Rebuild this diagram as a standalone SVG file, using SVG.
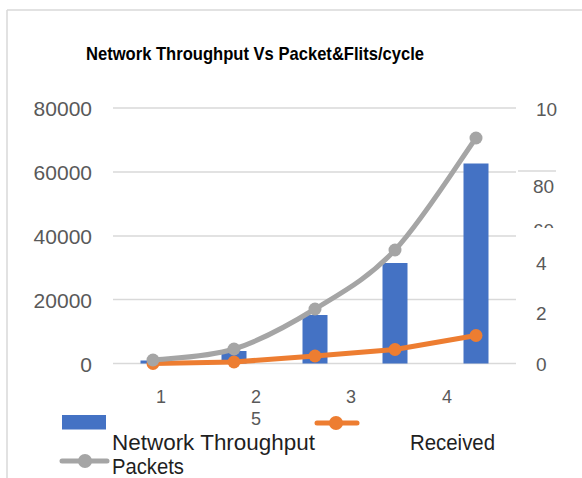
<svg xmlns="http://www.w3.org/2000/svg" width="582" height="478" viewBox="0 0 582 478">
  <style>
    .grid { stroke: #d9d9d9; stroke-width: 1.5; fill: none; }
    .frame { stroke: #d9d9d9; stroke-width: 1.5; fill: none; }
    .axis { font-family: "Liberation Sans", Arial, sans-serif; font-size: 21px; fill: #595959; }
    .axisR { font-family: "Liberation Sans", Arial, sans-serif; font-size: 19px; fill: #595959; }
    .cat { font-family: "Liberation Sans", Arial, sans-serif; font-size: 18px; fill: #595959; text-anchor: middle; }
    .legend { font-family: "Liberation Sans", Arial, sans-serif; font-size: 22px; fill: #1f1f1f; }
    .title { font-family: "Liberation Sans", Arial, sans-serif; font-size: 19px; font-weight: bold; fill: #000; }
    .bar { fill: #4472c4; }
    .gray { stroke: #a5a5a5; stroke-width: 5; fill: none; stroke-linejoin: round; stroke-linecap: round; }
    .grayDot { fill: #a5a5a5; }
    .orange { stroke: #ed7d31; stroke-width: 5; fill: none; stroke-linejoin: round; stroke-linecap: round; }
    .orangeDot { fill: #ed7d31; }
  </style>
  <defs>
    <clipPath id="clipSixty">
      <rect x="520" y="200" width="60" height="28"/>
    </clipPath>
  </defs>

  <rect x="0" y="0" width="582" height="478" fill="#ffffff"/>

  <!-- chart frame (top and left edges) -->
  <g id="frame">
    <line class="frame" x1="7" y1="10" x2="582" y2="10"/>
    <line class="frame" x1="7" y1="10" x2="7" y2="478"/>
  </g>

  <text id="title" class="title" x="86" y="60" textLength="338" lengthAdjust="spacingAndGlyphs">Network Throughput Vs Packet&amp;Flits/cycle</text>

  <!-- gridlines -->
  <g id="gridlines">
    <line class="grid" x1="113" y1="108" x2="516" y2="108"/>
    <line class="grid" x1="113" y1="172" x2="516" y2="172"/>
    <line class="grid" x1="113" y1="236" x2="516" y2="236"/>
    <line class="grid" x1="113" y1="299.5" x2="516" y2="299.5"/>
    <line class="grid" x1="113" y1="363.5" x2="516" y2="363.5"/>
    <line class="grid" x1="518" y1="171" x2="556" y2="171"/>
  </g>

  <!-- left value axis -->
  <g id="axis-left" class="axis" text-anchor="end">
    <text x="92" y="116">80000</text>
    <text x="92" y="180">60000</text>
    <text x="92" y="244">40000</text>
    <text x="92" y="307.5">20000</text>
    <text x="92" y="371.5">0</text>
  </g>

  <!-- right value axis -->
  <g id="axis-right" class="axisR">
    <text x="536" y="116">10</text>
    <text x="533" y="193">80</text>
    <text x="533" y="237" clip-path="url(#clipSixty)">60</text>
    <text x="536" y="269.5">4</text>
    <text x="536" y="320">2</text>
    <text x="536" y="371">0</text>
  </g>

  <!-- category axis -->
  <g id="axis-categories" class="cat">
    <text x="161" y="403">1</text>
    <text x="256" y="403">2</text>
    <text x="351" y="403">3</text>
    <text x="447" y="403">4</text>
    <text x="256" y="425">5</text>
  </g>

  <!-- Network Throughput bars -->
  <g id="series-throughput">
    <rect class="bar" x="140.5" y="360.5" width="25" height="3"/>
    <rect class="bar" x="221.5" y="351" width="25" height="12.5"/>
    <rect class="bar" x="302.5" y="315" width="25" height="48.5"/>
    <rect class="bar" x="382.5" y="263" width="25" height="100.5"/>
    <rect class="bar" x="463.5" y="163.5" width="25" height="200"/>
  </g>

  <!-- Received series -->
  <g id="series-received">
    <polyline class="orange" points="153,363.5 234,362 315,356 395,349.5 476,335.5"/>
    <circle class="orangeDot" cx="153" cy="363.5" r="6.5"/>
    <circle class="orangeDot" cx="234" cy="362" r="6.5"/>
    <circle class="orangeDot" cx="315" cy="356" r="6.5"/>
    <circle class="orangeDot" cx="395" cy="349.5" r="6.5"/>
    <circle class="orangeDot" cx="476" cy="335.5" r="6.5"/>
  </g>

  <!-- Packets series (smoothed) -->
  <g id="series-packets">
    <path class="gray" d="M153,360 C166.5,358.2 207,357.5 234,349 C261,340.5 288.2,325.5 315,309 C341.8,292.5 368.2,278.5 395,250 C421.8,221.5 462.5,156.7 476,138"/>
    <circle class="grayDot" cx="153" cy="360" r="6.5"/>
    <circle class="grayDot" cx="234" cy="349" r="6.5"/>
    <circle class="grayDot" cx="315" cy="309" r="6.5"/>
    <circle class="grayDot" cx="395" cy="250" r="6.5"/>
    <circle class="grayDot" cx="476" cy="138" r="6.5"/>
  </g>

  <!-- legend -->
  <g id="legend">
    <rect class="bar" x="62" y="415" width="44" height="14.5"/>
    <text class="legend" x="112" y="450" textLength="203" lengthAdjust="spacingAndGlyphs">Network Throughput</text>
    <line class="orange" x1="317" y1="423" x2="357" y2="423" stroke-width="6" stroke-linecap="butt"/>
    <circle class="orangeDot" cx="336" cy="423" r="7"/>
    <text class="legend" x="410" y="450" textLength="85" lengthAdjust="spacingAndGlyphs">Received</text>
    <line class="gray" x1="62" y1="461" x2="107" y2="461" stroke-width="6" stroke-linecap="butt"/>
    <circle class="grayDot" cx="85" cy="461" r="7"/>
    <text class="legend" x="112" y="474" textLength="72" lengthAdjust="spacingAndGlyphs">Packets</text>
  </g>
</svg>
